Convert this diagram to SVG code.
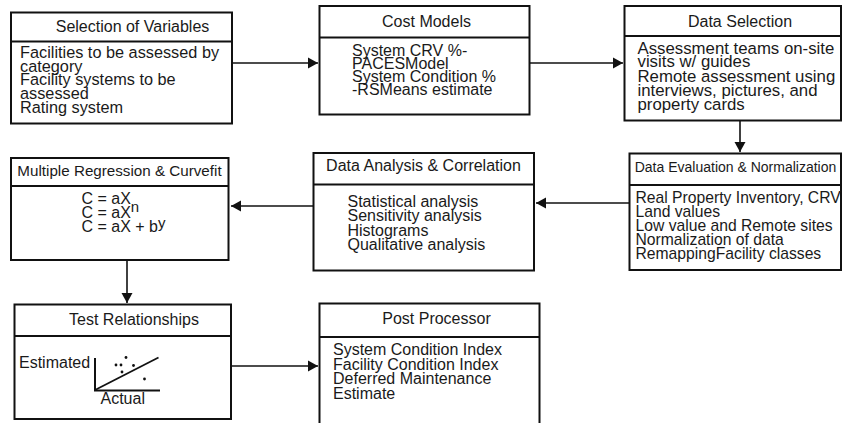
<svg xmlns="http://www.w3.org/2000/svg" width="843" height="423" viewBox="0 0 843 423">
  <style>
    .box { fill: #ffffff; stroke: #111111; stroke-width: 2; }
    .div { stroke: #111111; stroke-width: 2; }
    .t { font-family: "Liberation Sans", Arial, sans-serif; fill: #1a1a1a; font-size: 16px; }
    .title { text-anchor: middle; }
    .conn { stroke: #111111; stroke-width: 1.6; fill: none; }
    .axis { stroke: #111111; stroke-width: 2; fill: none; }
    .dot { fill: #111111; }
  </style>
  <defs>
    <marker id="arrow" markerUnits="userSpaceOnUse" markerWidth="10" markerHeight="12" refX="10" refY="6" orient="auto">
      <path d="M0,0.5 L10,6 L0,11.5 Z" fill="#111111"/>
    </marker>
  </defs>

  <rect width="843" height="423" fill="#ffffff"/>

  <!-- connectors -->
  <g id="connectors">
    <line class="conn" x1="232" y1="63" x2="318" y2="63" marker-end="url(#arrow)"/>
    <line class="conn" x1="529" y1="63" x2="623" y2="63" marker-end="url(#arrow)"/>
    <line class="conn" x1="740" y1="120" x2="740" y2="152" marker-end="url(#arrow)"/>
    <line class="conn" x1="629" y1="203" x2="536" y2="203" marker-end="url(#arrow)"/>
    <line class="conn" x1="313" y1="206" x2="231" y2="206" marker-end="url(#arrow)"/>
    <line class="conn" x1="127" y1="260" x2="127" y2="303" marker-end="url(#arrow)"/>
    <line class="conn" x1="231" y1="366" x2="318" y2="366" marker-end="url(#arrow)"/>
  </g>

  <!-- Selection of Variables -->
  <g id="selection-of-variables">
    <rect class="box" x="11" y="12.5" width="221" height="111"/>
    <line class="div" x1="11" y1="41.5" x2="232" y2="41.5"/>
    <text class="t title" x="132.5" y="32">Selection of Variables</text>
    <text class="t" style="font-size:16.3px">
      <tspan x="20" y="58">Facilities to be assessed by</tspan>
      <tspan x="20" y="71.5">category</tspan>
      <tspan x="20" y="85">Facility systems to be</tspan>
      <tspan x="20" y="98.5">assessed</tspan>
      <tspan x="20" y="113">Rating system</tspan>
    </text>
  </g>

  <!-- Cost Models -->
  <g id="cost-models">
    <rect class="box" x="319.5" y="6" width="210" height="108.5"/>
    <line class="div" x1="319.5" y1="37.5" x2="529.5" y2="37.5"/>
    <text class="t title" x="426.5" y="27">Cost Models</text>
    <text class="t">
      <tspan x="352" y="55.5">System CRV %-</tspan>
      <tspan x="352" y="68.5">PACESModel</tspan>
      <tspan x="352" y="81.5">System Condition %</tspan>
      <tspan x="352" y="95">-RSMeans estimate</tspan>
    </text>
  </g>

  <!-- Data Selection -->
  <g id="data-selection">
    <rect class="box" x="624.5" y="6" width="216.5" height="114.5"/>
    <line class="div" x1="624.5" y1="36" x2="841" y2="36"/>
    <text class="t title" x="740" y="26.5">Data Selection</text>
    <text class="t" style="font-size:16.8px">
      <tspan x="637.5" y="53.5">Assessment teams on-site</tspan>
      <tspan x="637.5" y="67">visits w/ guides</tspan>
      <tspan x="637.5" y="81.5">Remote assessment using</tspan>
      <tspan x="637.5" y="96">interviews, pictures, and</tspan>
      <tspan x="637.5" y="110">property cards</tspan>
    </text>
  </g>

  <!-- Data Evaluation & Normalization -->
  <g id="data-evaluation">
    <rect class="box" x="629.5" y="153.5" width="211.5" height="116.5"/>
    <line class="div" x1="629.5" y1="185" x2="841" y2="185"/>
    <text class="t title" x="735.5" y="172" style="font-size:14px">Data Evaluation &amp; Normalization</text>
    <text class="t" style="font-size:15.7px">
      <tspan x="635.5" y="203">Real Property Inventory, CRV</tspan>
      <tspan x="635.5" y="216.5">Land values</tspan>
      <tspan x="635.5" y="230.5">Low value and Remote sites</tspan>
      <tspan x="635.5" y="244.5">Normalization of data</tspan>
      <tspan x="635.5" y="258.5">RemappingFacility classes</tspan>
    </text>
  </g>

  <!-- Data Analysis & Correlation -->
  <g id="data-analysis">
    <rect class="box" x="313.5" y="153" width="220.5" height="117.5"/>
    <line class="div" x1="313.5" y1="184.5" x2="534" y2="184.5"/>
    <text class="t title" x="423.5" y="171">Data Analysis &amp; Correlation</text>
    <text class="t">
      <tspan x="347.5" y="206.5">Statistical analysis</tspan>
      <tspan x="347.5" y="221">Sensitivity analysis</tspan>
      <tspan x="347.5" y="235.5">Histograms</tspan>
      <tspan x="347.5" y="250">Qualitative analysis</tspan>
    </text>
  </g>

  <!-- Multiple Regression & Curvefit -->
  <g id="regression">
    <rect class="box" x="11" y="158" width="217.5" height="102"/>
    <line class="div" x1="11" y1="186" x2="228.5" y2="186"/>
    <text class="t title" x="119.5" y="175.5" style="font-size:15.2px">Multiple Regression &amp; Curvefit</text>
    <text class="t" x="81.5" y="204">C = aX</text>
    <text class="t" x="81.5" y="218">C = aX<tspan dy="-6.5" style="font-size:15px">n</tspan></text>
    <text class="t" x="81.5" y="231.5">C = aX + b<tspan dy="-4" style="font-size:15px">y</tspan></text>
  </g>

  <!-- Test Relationships -->
  <g id="test-relationships">
    <rect class="box" x="14.5" y="304.5" width="216.5" height="114.5"/>
    <line class="div" x1="14.5" y1="336" x2="231" y2="336"/>
    <text class="t title" x="134" y="324.5">Test Relationships</text>
    <text class="t" x="19" y="367.5">Estimated</text>
    <path class="axis" d="M95,358 V390.5 H160"/>
    <line x1="95" y1="390" x2="158.5" y2="357.5" stroke="#111111" stroke-width="1.8"/>
    <circle class="dot" cx="116" cy="365" r="1.4"/>
    <circle class="dot" cx="121" cy="365" r="1.4"/>
    <circle class="dot" cx="126" cy="357.5" r="1.4"/>
    <circle class="dot" cx="133.5" cy="365.5" r="1.4"/>
    <circle class="dot" cx="122" cy="372" r="1.4"/>
    <circle class="dot" cx="144.5" cy="379" r="1.4"/>
    <text class="t" x="100.5" y="403.5">Actual</text>
  </g>

  <!-- Post Processor (its lower edge runs past the bottom of the sheet) -->
  <g id="post-processor">
    <rect class="box" x="319.5" y="303.5" width="220" height="122"/>
    <line class="div" x1="319.5" y1="337" x2="539.5" y2="337"/>
    <text class="t title" x="436.5" y="323.5">Post Processor</text>
    <text class="t">
      <tspan x="333" y="355">System Condition Index</tspan>
      <tspan x="333" y="369.5">Facility Condition Index</tspan>
      <tspan x="333" y="384">Deferred Maintenance</tspan>
      <tspan x="333" y="399">Estimate</tspan>
    </text>
  </g>
</svg>
